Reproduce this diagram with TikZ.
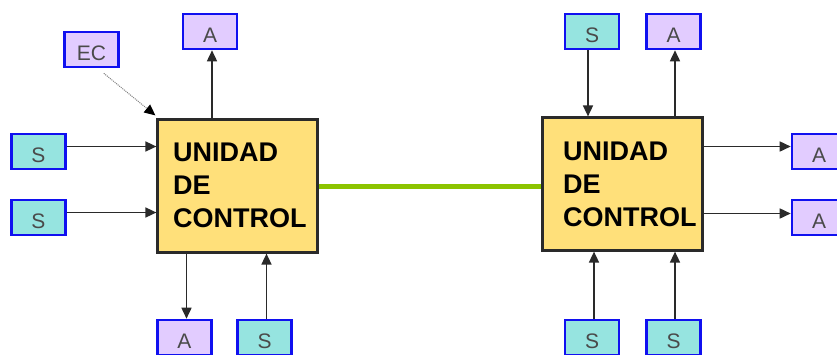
\documentclass[tikz,border=0pt]{standalone}
\usepackage{fontspec}
\setmainfont{Liberation Sans}
\usetikzlibrary{arrows.meta,calc}
\definecolor{sfill}{HTML}{96E4E0}
\definecolor{afill}{HTML}{E2CCFF}
\definecolor{bblue}{HTML}{1010F0}
\definecolor{cufill}{HTML}{FFE07A}
\definecolor{green1}{HTML}{8CC400}
\definecolor{ink}{HTML}{2A2A2A}
\tikzset{
  small/.style={draw=bblue, line width=2.6pt, minimum width=54pt, minimum height=35pt,
    inner sep=0pt, text height=21pt, text depth=0pt, font=\fontsize{21}{21}\selectfont, text=ink!85},
  sbox/.style={small, fill=sfill},
  abox/.style={small, fill=afill},
  cu/.style={draw=ink, line width=2.2pt, fill=cufill, minimum width=160pt, minimum height=133pt, inner sep=0pt},
  cutext/.style={font=\fontsize{27}{33}\selectfont\bfseries, align=left, inner sep=0pt, anchor=west},
  arr/.style={draw=ink, line width=1.6pt, -{Triangle[length=11pt,width=10pt]}},
  ecarr/.style={draw=gray, line width=1pt, densely dotted, -{Triangle[length=11pt,width=10pt,fill=black,color=black]}},
  link/.style={draw=green1, line width=5pt}
}
\begin{document}
\begin{tikzpicture}[x=1pt,y=-1pt]
\clip (0,0) rectangle (837,354);
\fill[white] (0,0) rectangle (837,354);
% left unit
\node[cu] (L) at (237.5,186) {};
\node[cutext] (Lt) at (173,185.5) {UNIDAD\\DE\\CONTROL};
\node[abox] (EC) at (91.5,49.5) {EC};
\node[abox] (LA1) at (210,31.5) {A};
\node[sbox] (LS1) at (38.5,151.5) {S};
\node[sbox] (LS2) at (38.5,217.5) {S};
\node[abox] (LA2) at (184.5,337.5) {A};
\node[sbox] (LS3) at (264.5,337.5) {S};
% right unit
\node[cu] (R) at (622.5,184) {};
\node[cutext] (Rt) at (563,184.5) {UNIDAD\\DE\\CONTROL};
\node[sbox] (RS1) at (592,31.5) {S};
\node[abox] (RA1) at (673.5,31.5) {A};
\node[abox] (RA2) at (819,151.5) {A};
\node[abox] (RA3) at (819,217.5) {A};
\node[sbox] (RS2) at (592,337.5) {S};
\node[sbox] (RS3) at (673.5,337.5) {S};
% link
\draw[link] (L.east) -- (L.east -| R.west);
% left connectors
\draw[ecarr] ([shift={(-16pt,-5pt)}]EC.south east) -- ([shift={(-1pt,3pt)}]L.north west);
\draw[arr] ([xshift=2pt]L.north -| LA1) -- ([xshift=2pt]LA1.south);
\draw[arr] ([yshift=5pt]LS1.east) -- ([yshift=5pt]LS1.east -| L.west);
\draw[arr] ([yshift=5pt]LS2.east) -- ([yshift=5pt]LS2.east -| L.west);
\draw[arr] ([xshift=2pt]L.south -| LA2) -- ([xshift=2pt]LA2.north);
\draw[arr] ([xshift=2pt]LS3.north) -- ([xshift=2pt]LS3.north |- L.south);
% right connectors
\draw[arr] ([xshift=-4pt]RS1.south) -- ([xshift=-4pt]RS1.south |- R.north);
\draw[arr] ([xshift=1.5pt]R.north -| RA1) -- ([xshift=1.5pt]RA1.south);
\draw[arr] ([yshift=5pt]R.east |- RA2) -- ([yshift=5pt]RA2.west);
\draw[arr] ([yshift=4pt]R.east |- RA3) -- ([yshift=4pt]RA3.west);
\draw[arr] ([xshift=2pt]RS2.north) -- ([xshift=2pt]RS2.north |- R.south);
\draw[arr] ([xshift=1.5pt]RS3.north) -- ([xshift=1.5pt]RS3.north |- R.south);
\end{tikzpicture}
\end{document}
